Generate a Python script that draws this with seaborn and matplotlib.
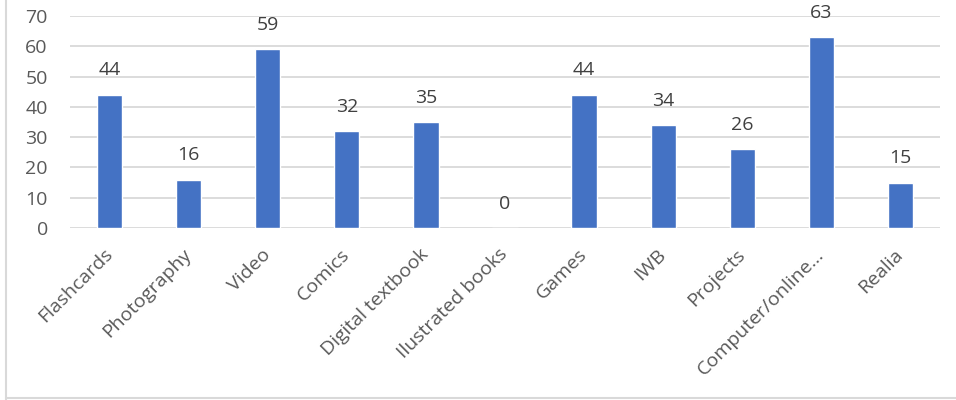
import pandas as pd
import numpy as np
import matplotlib.pyplot as plt
import seaborn as sns
from matplotlib.lines import Line2D

# chart data
categories = ["Flashcards", "Photography", "Video", "Comics", "Digital textbook",
              "Ilustrated books", "Games", "IWB", "Projects", "Computer/online...", "Realia"]
counts = [44, 16, 59, 32, 35, 0, 44, 34, 26, 63, 15]
y_ticks = [0, 10, 20, 30, 40, 50, 60, 70]

df = pd.DataFrame({"category": categories, "count": counts})

sns.set_theme(style="white")
plt.rcParams['font.family'] = ['Open Sans', 'DejaVu Sans']
text_color = "#595959"

fig = plt.figure(figsize=(9.56, 4.0), dpi=100)
ax = fig.add_axes([70 / 956, 1 - 228 / 400, 870 / 956, 212 / 400])

sns.barplot(data=df, x="category", y="count", color="#4472C4", width=0.32,
            saturation=1, ax=ax, zorder=3)

ax.set_ylim(0, 70)
ax.set_yticks(y_ticks)
ax.yaxis.grid(True, color="#D9D9D9", linewidth=1.3, zorder=0)
ax.set_axisbelow(True)
for s in ax.spines.values():
    s.set_visible(False)
ax.set_xlabel("")
ax.set_ylabel("")
ax.tick_params(axis="y", length=0, pad=16, labelsize=14, labelcolor=text_color)
ax.tick_params(axis="x", length=0, pad=17, labelsize=14, labelcolor=text_color)
plt.setp(ax.get_xticklabels(), rotation=45, ha="right", va="center",
         rotation_mode="anchor")

# value labels above bars
for container in ax.containers:
    ax.bar_label(container, labels=[str(v) for v in counts], padding=11,
                 fontsize=14, color="#404040")

# chart-area frame (partially cropped in the reference)
fig.add_artist(Line2D([6 / 956, 6 / 956], [0, 1], color="#D9D9D9", linewidth=1.5))
fig.add_artist(Line2D([6 / 956, 1], [2 / 400, 2 / 400], color="#D9D9D9", linewidth=1.5))

plt.savefig("out.png", dpi=100)
